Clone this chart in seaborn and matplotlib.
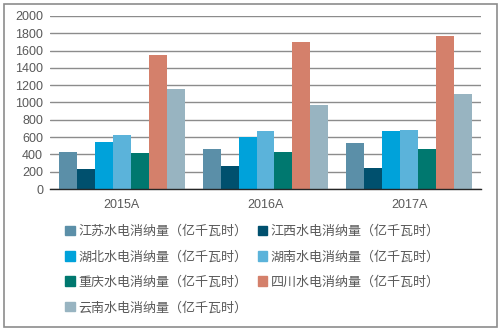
import matplotlib
matplotlib.use("Agg")
import matplotlib.pyplot as plt
import seaborn as sns
import pandas as pd
from matplotlib.patches import Rectangle

years = ["2015A", "2016A", "2017A"]
series = ["江苏水电消纳量（亿千瓦时）", "江西水电消纳量（亿千瓦时）", "湖北水电消纳量（亿千瓦时）",
          "湖南水电消纳量（亿千瓦时）", "重庆水电消纳量（亿千瓦时）", "四川水电消纳量（亿千瓦时）",
          "云南水电消纳量（亿千瓦时）"]
jiangsu = [428, 462, 532]
jiangxi = [231, 266, 243]
hubei = [543, 601, 670]
hunan = [624, 670, 682]
chongqing = [416, 428, 462]
sichuan = [1549, 1699, 1769]
yunnan = [1156, 971, 1098]
colors = ["#5B8FA8", "#00506E", "#00A2DA", "#5BB3DA", "#00786F", "#D4806B", "#98B4C1"]

values = [jiangsu, jiangxi, hubei, hunan, chongqing, sichuan, yunnan]
rows = []
for s, vals in zip(series, values):
    for y, v in zip(years, vals):
        rows.append({"year": y, "series": s, "value": v})
df = pd.DataFrame(rows)

sns.set_style("white")
plt.rcParams['font.family'] = ['Noto Sans CJK SC', 'DejaVu Sans']

fig = plt.figure(figsize=(5.01, 3.31), dpi=100)
ax = fig.add_axes([50/501, 1-189/331, 431/501, 173/331])
sns.barplot(data=df, x="year", y="value", hue="series", palette=colors,
            width=0.875, saturation=1, linewidth=0, ax=ax, legend=False)

ax.set_ylim(0, 2000)
ax.set_yticks(range(0, 2001, 200))
ax.set_xlim(-0.5, 2.5)
ax.yaxis.grid(True, color="#8C8C8C", linewidth=1)
ax.set_axisbelow(True)
for s in ["top", "right", "left"]:
    ax.spines[s].set_visible(False)
ax.spines["bottom"].set_color("#262626")
ax.spines["bottom"].set_linewidth(1)
ax.set_xlabel("")
ax.set_ylabel("")
ax.tick_params(axis="both", length=0, labelsize=9, colors="#595959", pad=5)
ax.tick_params(axis="x", pad=7)
for lab in ax.get_yticklabels() + ax.get_xticklabels():
    lab.set_family(['Liberation Sans', 'DejaVu Sans'])

# legend
handles = [Rectangle((0, 0), 1, 1, color=c) for c in colors]
order = [0, 2, 4, 6, 1, 3, 5]
fig.legend([handles[i] for i in order], [series[i] for i in order],
           ncol=2, loc="upper left", bbox_to_anchor=(65/501, 1-225/331),
           frameon=False, fontsize=9.4, handlelength=0.75, handleheight=0.75,
           handletextpad=0.25, columnspacing=0.8, labelspacing=0.95,
           labelcolor="#595959", borderaxespad=0, borderpad=0)

fig.patches.append(Rectangle((4/501, 4/331), 493/501, 323/331, transform=fig.transFigure,
                             fill=False, edgecolor="#8C8C8C", linewidth=1.2))

fig.savefig("out.png", dpi=100)
